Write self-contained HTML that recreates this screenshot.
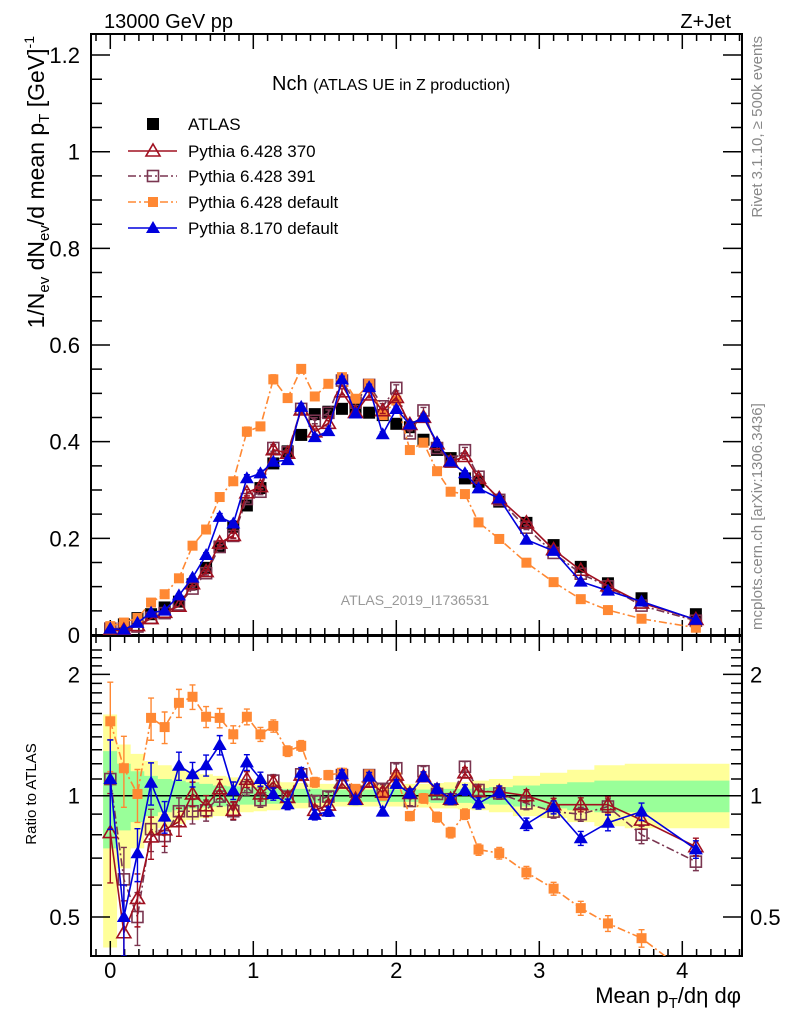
<!DOCTYPE html>
<html><head><meta charset="utf-8"><style>
html,body{margin:0;padding:0;background:#fff;}
svg{display:block;font-family:"Liberation Sans",sans-serif;}
</style></head><body>
<svg id="chart" width="786" height="1024" viewBox="0 0 786 1024" xmlns="http://www.w3.org/2000/svg">
<defs>
<clipPath id="cm"><rect x="91" y="34" width="651" height="601"/></clipPath>
<clipPath id="cr"><rect x="91" y="636" width="651" height="320"/></clipPath>
</defs>
<text x="104" y="28" font-size="20">13000 GeV pp</text>
<text x="731" y="28" font-size="20" text-anchor="end">Z+Jet</text>
<text x="272" y="90" font-size="20">Nch <tspan font-size="16">(ATLAS UE in Z production)</tspan></text>
<text transform="translate(762,36) rotate(-90)" font-size="15" fill="#888" text-anchor="end">Rivet 3.1.10, ≥ 500k events</text>
<text transform="translate(762,630) rotate(-90)" font-size="15" fill="#888">mcplots.cern.ch [arXiv:1306.3436]</text>
<text x="415" y="605" font-size="14" fill="#999" text-anchor="middle">ATLAS_2019_I1736531</text>
<text transform="translate(44,36) rotate(-90)" font-size="23" text-anchor="end">1/N<tspan font-size="15" dy="5">ev</tspan><tspan dy="-5"> dN</tspan><tspan font-size="15" dy="5">ev</tspan><tspan dy="-5">/d mean p</tspan><tspan font-size="15" dy="5">T</tspan><tspan dy="-5">  [GeV]</tspan><tspan font-size="14" dy="-10">-1</tspan></text>
<text transform="translate(36,794) rotate(-90)" font-size="15" text-anchor="middle">Ratio to ATLAS</text>
<text x="741" y="1003" font-size="22" text-anchor="end">Mean p<tspan font-size="15" dy="5">T</tspan><tspan dy="-5">/dη dφ</tspan></text>
<g id="bands" clip-path="url(#cr)"></g>
<g id="axes"></g>
<g id="mainmarks" clip-path="url(#cm)"></g>
<g id="ratiomarks" clip-path="url(#cr)"></g>
<g id="legend"></g>
</svg>
<script>
const xVals=[0,0.095,0.19,0.285,0.38,0.48,0.575,0.67,0.765,0.86,0.955,1.05,1.14,1.24,1.335,1.43,1.525,1.62,1.715,1.81,1.905,2.0,2.095,2.19,2.285,2.38,2.48,2.575,2.72,2.91,3.1,3.29,3.48,3.715,4.095];
const atlas=[0.012,0.022,0.035,0.043,0.057,0.069,0.105,0.139,0.183,0.224,0.268,0.304,0.355,0.38,0.414,0.457,0.462,0.468,0.47,0.46,0.455,0.437,0.43,0.404,0.383,0.366,0.324,0.317,0.276,0.232,0.186,0.141,0.107,0.076,0.043];
const ratio370=[0.81,0.457,0.556,0.79,0.823,0.862,1.01,0.944,1.04,0.92,1.098,1.01,1.08,0.99,1.125,0.92,0.948,1.075,0.98,1.08,1.02,1.125,1.013,1.115,1.033,0.98,1.14,1.023,1.023,1.0,0.95,0.95,0.95,0.87,0.747];
const ratio391=[1.10,0.62,0.50,0.826,0.794,0.915,0.915,0.92,0.995,0.915,1.05,0.975,1.09,0.995,1.13,0.97,0.995,1.125,1.023,1.125,1.04,1.17,0.97,1.15,1.01,0.98,1.18,1.033,1.013,0.957,0.913,0.9,0.94,0.80,0.686];
const ratioDef=[1.53,1.17,1.01,1.56,1.48,1.70,1.76,1.57,1.56,1.42,1.57,1.42,1.49,1.29,1.33,1.08,1.125,1.14,1.04,1.13,1.0,1.11,0.89,0.985,0.885,0.81,0.9,0.735,0.72,0.645,0.588,0.526,0.482,0.443,0.35];
const ratioP8=[1.10,0.50,0.72,1.077,0.887,1.187,1.13,1.19,1.336,1.03,1.21,1.10,1.01,0.952,1.14,0.896,0.913,1.13,0.975,1.115,0.913,1.07,1.013,1.115,1.04,0.98,1.033,0.957,1.023,0.85,0.936,0.784,0.857,0.913,0.736];
const mcErr=[0.25,0.2,0.15,0.12,0.09,0.08,0.07,0.06,0.055,0.05,0.045,0.04,0.035,0.03,0.03,0.028,0.026,0.025,0.024,0.024,0.024,0.025,0.026,0.027,0.028,0.03,0.03,0.032,0.033,0.035,0.037,0.04,0.045,0.05,0.05];
const yelHi=[1.59,1.34,1.27,1.22,1.19,1.17,1.15,1.13,1.12,1.11,1.10,1.09,1.085,1.08,1.075,1.07,1.07,1.065,1.065,1.065,1.065,1.065,1.07,1.07,1.075,1.08,1.08,1.09,1.10,1.12,1.14,1.16,1.19,1.20,1.20];
const yelLo=[0.42,0.66,0.74,0.80,0.83,0.85,0.87,0.88,0.89,0.90,0.91,0.915,0.92,0.925,0.93,0.935,0.935,0.94,0.94,0.94,0.94,0.94,0.935,0.935,0.93,0.93,0.925,0.92,0.91,0.89,0.88,0.86,0.84,0.83,0.83];
const grnHi=[1.29,1.20,1.15,1.12,1.10,1.09,1.08,1.07,1.06,1.055,1.05,1.05,1.045,1.04,1.04,1.04,1.035,1.035,1.035,1.035,1.035,1.035,1.035,1.035,1.04,1.04,1.04,1.045,1.05,1.06,1.07,1.08,1.09,1.09,1.09];
const grnLo=[0.74,0.82,0.86,0.89,0.91,0.92,0.93,0.935,0.94,0.945,0.95,0.95,0.955,0.96,0.96,0.96,0.965,0.965,0.965,0.965,0.965,0.965,0.965,0.965,0.96,0.96,0.96,0.955,0.95,0.94,0.93,0.92,0.91,0.91,0.91];
const mainTicks=[0,0.2,0.4,0.6,0.8,1,1.2];
const mainTickLabels=["0","0.2","0.4","0.6","0.8","1","1.2"];
const xTicks=[0,1,2,3,4];
const xTickLabels=["0","1","2","3","4"];
const ratioTicks=[0.5,1,2];
const ratioTickLabels=["0.5","1","2"];

const NS="http://www.w3.org/2000/svg";
const X=v=>110.3+143*v;
const YM=v=>635-483.3*v;
const YR=r=>795.7-175*Math.log(r);
const L=91,R=742,MT=34,MB=635,RT=636,RB=956;
function mk(tag,attrs,parent){const e=document.createElementNS(NS,tag);for(const k in attrs)e.setAttribute(k,attrs[k]);parent.appendChild(e);return e;}
const axes=document.getElementById('axes');
const bands=document.getElementById('bands');
const mm=document.getElementById('mainmarks');
const rm=document.getElementById('ratiomarks');
const lg=document.getElementById('legend');

const edges=[-0.05];
for(let i=0;i<xVals.length-1;i++)edges.push((xVals[i]+xVals[i+1])/2);
edges.push(4.33);
function bandPath(hi,lo){let d="";for(let i=0;i<xVals.length;i++){d+=(i?"L":"M")+X(edges[i])+","+YR(hi[i])+"L"+X(edges[i+1])+","+YR(hi[i]);}
for(let i=xVals.length-1;i>=0;i--){d+="L"+X(edges[i+1])+","+YR(lo[i])+"L"+X(edges[i])+","+YR(lo[i]);}return d+"Z";}
let yb=mk('path',{d:bandPath(yelHi,yelLo),fill:'#ffff99'},bands);


let gb=mk('path',{d:bandPath(grnHi,grnLo),fill:'#99ff99'},bands);


let one=mk('line',{x1:L,x2:R,y1:YR(1),y2:YR(1),stroke:'#000','stroke-width':1.5},bands);



let f1=mk('rect',{x:L,y:MT,width:R-L,height:MB-MT,fill:'none',stroke:'#000','stroke-width':2},axes);


let f2=mk('rect',{x:L,y:RT,width:R-L,height:RB-RT,fill:'none',stroke:'#000','stroke-width':2},axes);


let xd="";
for(let k=-1;k<=44;k++){const v=k/10;const px=X(v);if(px<L+1||px>R-1)continue;const maj=(k%10===0);const len=maj?15:7;
xd+=`M${px},${MB}v${-len}M${px},${MT}v${len}M${px},${RB}v${-len}M${px},${RT}v${len}`;}
let xt=mk('path',{d:xd,stroke:'#000','stroke-width':1.5,fill:'none'},axes);


xTicks.forEach((v,i)=>{let t=mk('text',{x:X(v),y:978,'font-size':22,'text-anchor':'middle'},axes);t.textContent=xTickLabels[i];

});
let yd="";
for(let k=0;k<=25;k++){const v=k*0.05;const py=YM(v);if(py<MT+1)continue;const maj=(k%4===0);const len=maj?19:11;yd+=`M${L},${py}h${len}M${R},${py}h${-len}`;}
let ytk=mk('path',{d:yd,stroke:'#000','stroke-width':1.5,fill:'none'},axes);


mainTicks.forEach((v,i)=>{let t=mk('text',{x:80,y:YM(v)+8,'font-size':22,'text-anchor':'end'},axes);t.textContent=mainTickLabels[i];

});
let rd="";
const rminor=[0.4,0.5,0.6,0.7,0.8,0.9,1,1.1,1.2,1.3,1.4,1.5,1.6,1.7,1.8,1.9,2,2.1,2.2,2.3];
rminor.forEach(r=>{const py=YR(r);if(py<RT+1||py>RB-1)return;const maj=(r===0.5||r===1||r===2);const len=maj?19:11;rd+=`M${L},${py}h${len}M${R},${py}h${-len}`;});
let rtk=mk('path',{d:rd,stroke:'#000','stroke-width':1.5,fill:'none'},axes);


ratioTicks.forEach((v,i)=>{let t=mk('text',{x:80,y:YR(v)+8,'font-size':22,'text-anchor':'end'},axes);t.textContent=ratioTickLabels[i];


let t2=mk('text',{x:750,y:YR(v)+8,'font-size':22},axes);t2.textContent=ratioTickLabels[i];

});

function marker(g,type,x,y,c){
 if(type==='sq'){return mk('rect',{x:x-6,y:y-6,width:12,height:12,fill:'#000'},g);}
 if(type==='osq'){return mk('rect',{x:x-5.5,y:y-5.5,width:11,height:11,fill:'none',stroke:c,'stroke-width':1.6},g);}
 if(type==='fsq'){return mk('rect',{x:x-5,y:y-5,width:10,height:10,fill:c},g);}
 if(type==='otri'){return mk('path',{d:`M${x},${y-7}L${x+7},${y+5}L${x-7},${y+5}Z`,fill:'none',stroke:c,'stroke-width':1.6},g);}
 if(type==='ftri'){return mk('path',{d:`M${x},${y-7}L${x+7},${y+5}L${x-7},${y+5}Z`,fill:c},g);}
}
const series=[
 {name:'py6-391',ratio:ratio391,color:'#7a3550',mk:'osq',dash:'8,3,2,3'},
 {name:'py6-default',ratio:ratioDef,color:'#ff8833',mk:'fsq',dash:'8,3,2,3'},
 {name:'py6-370',ratio:ratio370,color:'#a01020',mk:'otri',dash:null},
 {name:'py8-default',ratio:ratioP8,color:'#0000dd',mk:'ftri',dash:null}
];
let ag=mk('g',{},mm);


xVals.forEach((x,i)=>{let m=marker(ag,'sq',X(x),YM(atlas[i]));

});
series.forEach(s=>{
 ['main','ratio'].forEach(panel=>{
  const par=panel==='main'?mm:rm;
  const g=mk('g',{},par);
  
  
  const vy=i=>panel==='main'?YM(atlas[i]*s.ratio[i]):YR(s.ratio[i]);
  const pts=xVals.map((x,i)=>X(x)+','+vy(i)).join(' ');
  const pl=mk('polyline',{points:pts,fill:'none',stroke:s.color,'stroke-width':1.6},g);
  if(s.dash)pl.setAttribute('stroke-dasharray',s.dash);
  
  
  let ed="";
  const fac=panel==='main'?0.5:1.0;
  xVals.forEach((x,i)=>{let v=panel==='main'?atlas[i]*s.ratio[i]:s.ratio[i];const e=v*mcErr[i]*fac;
   const y1=panel==='main'?YM(v+e):YR(v+e),y2=panel==='main'?YM(v-e):YR(Math.max(v-e,0.01));
   if(Math.abs(y2-y1)>3)ed+=`M${X(x)},${y1}V${y2}M${X(x)-3},${y1}h6M${X(x)-3},${y2}h6`;});
  const eb=mk('path',{d:ed,stroke:s.color,'stroke-width':1.4,fill:'none'},g);
  
  
  xVals.forEach((x,i)=>{const m=marker(g,s.mk,X(x),vy(i),s.color);
   
   });
 });
});
const legItems=[
 {t:'ATLAS',mk:'sq',c:'#000',line:false,dash:null,y:124},
 {t:'Pythia 6.428 370',mk:'otri',c:'#a01020',line:true,dash:null,y:151},
 {t:'Pythia 6.428 391',mk:'osq',c:'#7a3550',line:true,dash:'8,3,2,3',y:176},
 {t:'Pythia 6.428 default',mk:'fsq',c:'#ff8833',line:true,dash:'8,3,2,3',y:202},
 {t:'Pythia 8.170 default',mk:'ftri',c:'#0000dd',line:true,dash:null,y:228}
];
legItems.forEach(it=>{const g=mk('g',{},lg);
 
 
 if(it.line){const l=mk('line',{x1:128,x2:177,y1:it.y,y2:it.y,stroke:it.c,'stroke-width':1.6},g);if(it.dash)l.setAttribute('stroke-dasharray',it.dash);}
 marker(g,it.mk,153,it.y,it.c);
 const t=mk('text',{x:188,y:it.y+6,'font-size':17},g);t.textContent=it.t;});
</script>
</body></html>
